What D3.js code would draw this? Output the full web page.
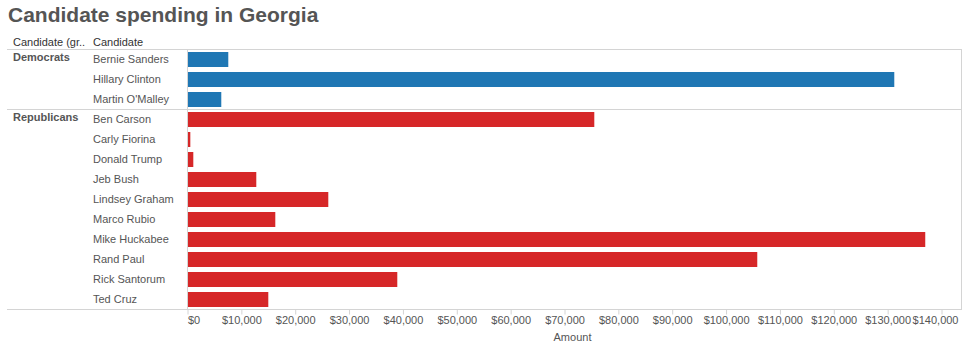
<!DOCTYPE html>
<html>
<head>
  <meta charset="utf-8" />
  <style>
    body { margin: 0; background: #fff; font-family: "Liberation Sans", Arial, sans-serif; }
    .title { font-size: 21px; font-weight: bold; fill: #555; }
    .hdr { font-size: 11px; fill: #333; }
    .grp { font-size: 11px; font-weight: bold; fill: #555; }
    .cand { font-size: 11px; fill: #555; }
    .tick text { font-size: 11px; fill: #555; }
  </style>
</head>
<body>
  <div id="chart"></div>
  <script src="https://d3js.org/d3.v7.min.js"></script>
  <script>
    var groups = ["Democrats", "Republicans"];
    var candidates = ["Bernie Sanders", "Hillary Clinton", "Martin O'Malley",
      "Ben Carson", "Carly Fiorina", "Donald Trump", "Jeb Bush", "Lindsey Graham",
      "Marco Rubio", "Mike Huckabee", "Rand Paul", "Rick Santorum", "Ted Cruz"];
    var party = ["Democrats", "Democrats", "Democrats",
      "Republicans", "Republicans", "Republicans", "Republicans", "Republicans",
      "Republicans", "Republicans", "Republicans", "Republicans", "Republicans"];
    var amounts = [7480, 131140, 6180,
      75440, 430, 985, 12680, 26050,
      16210, 136890, 105700, 38860, 14910];
    var tickValues = d3.range(0, 140001, 10000);

    var w = 971, h = 351;
    var left = 7, right = 962, plotTop = 49.5;
    var x0 = 187.5;

    var svg = d3.select("#chart").append("svg")
      .attr("width", w).attr("height", h);

    svg.append("text").attr("class", "title")
      .attr("x", 8).attr("y", 22)
      .text("Candidate spending in Georgia");

    svg.append("text").attr("class", "hdr").attr("x", 13).attr("y", 46).text("Candidate (gr..");
    svg.append("text").attr("class", "hdr").attr("x", 93).attr("y", 46).text("Candidate");

    var y = d3.scaleBand().domain(candidates).range([plotTop, plotTop + 20 * candidates.length]).paddingInner(0.25).paddingOuter(0.125);
    var xs = d3.scaleLinear().domain([0, 140000]).range([x0, x0 + 754]);
    var color = d3.scaleOrdinal().domain(groups).range(["#1f77b4", "#d62728"]);
    var bottom = plotTop + 20 * candidates.length;

    // frame lines
    var line = "#d4d4d4";
    svg.append("line").attr("x1", left).attr("x2", right).attr("y1", plotTop).attr("y2", plotTop).attr("stroke", line);
    svg.append("line").attr("x1", right - 0.5).attr("x2", right - 0.5).attr("y1", plotTop).attr("y2", bottom).attr("stroke", line);
    svg.append("line").attr("x1", x0).attr("x2", x0).attr("y1", plotTop).attr("y2", bottom).attr("stroke", line);

    groups.forEach(function (g, gi) {
      var idx = party.indexOf(g);
      var yTop = plotTop + 20 * idx;
      if (gi > 0) {
        svg.append("line").attr("x1", left).attr("x2", right).attr("y1", yTop).attr("y2", yTop).attr("stroke", line);
      }
      svg.append("text").attr("class", "grp").attr("x", 13).attr("y", yTop + 11.5).text(g);
    });

    svg.selectAll(".cand").data(candidates).enter().append("text")
      .attr("class", "cand")
      .attr("x", 93)
      .attr("y", function (d) { return y(d) + y.bandwidth() / 2 + 3; })
      .text(function (d) { return d; });

    svg.selectAll("rect.bar").data(candidates).enter().append("rect")
      .attr("class", "bar")
      .attr("x", xs(0) + 0.5)
      .attr("y", function (d) { return y(d); })
      .attr("width", function (d, i) { return xs(amounts[i]) - xs(0); })
      .attr("height", y.bandwidth())
      .attr("fill", function (d, i) { return color(party[i]); });

    var axis = d3.axisBottom(xs).tickValues(tickValues).tickSize(5).tickPadding(2)
      .tickFormat(function (d) { return "$" + d3.format(",")(d); });
    var ax = svg.append("g").attr("transform", "translate(0," + bottom + ")").call(axis);
    ax.select(".domain").remove();
    ax.selectAll(".tick line").attr("stroke", line);
    // keep end labels inside the frame, like the original
    ax.selectAll(".tick text")
      .filter(function (d) { return d === 0; })
      .attr("text-anchor", "start").attr("x", 0);
    ax.selectAll(".tick text")
      .filter(function (d) { return d === 140000; })
      .attr("text-anchor", "end").attr("x", 958 - xs(140000));
    svg.append("line").attr("x1", left).attr("x2", right).attr("y1", bottom).attr("y2", bottom).attr("stroke", line);

    svg.append("text").attr("class", "hdr")
      .attr("x", xs(70000) + 8).attr("y", 341).attr("text-anchor", "middle")
      .style("fill", "#555")
      .text("Amount");
  </script>
</body>
</html>
